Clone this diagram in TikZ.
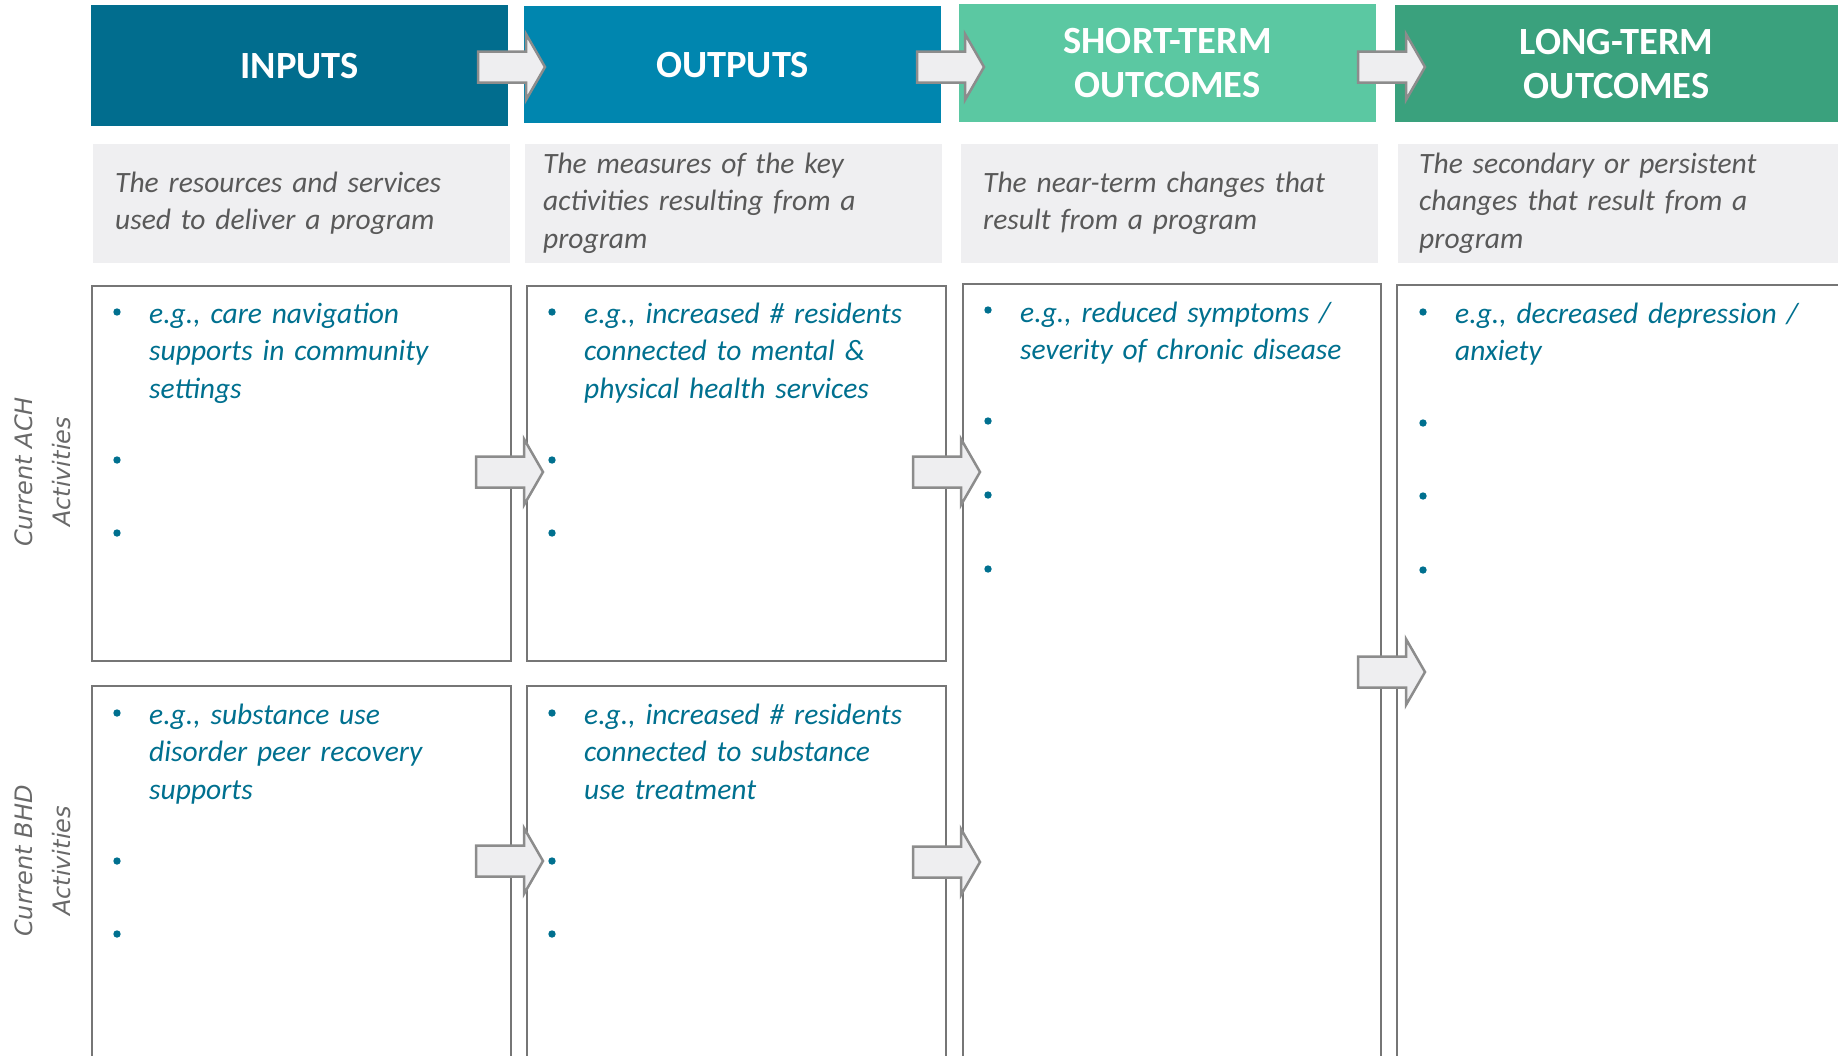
\documentclass[tikz,border=0pt]{standalone}
\usepackage{fontspec}
\setmainfont{Carlito}
\newfontfamily\labelfont{DejaVu Sans}

\definecolor{inputcol}{RGB}{1,109,142}
\definecolor{outputcol}{RGB}{0,134,175}
\definecolor{shortcol}{RGB}{91,200,162}
\definecolor{longcol}{RGB}{58,161,125}
\definecolor{descfill}{RGB}{239,239,241}
\definecolor{desctext}{RGB}{89,89,89}
\definecolor{itemtext}{RGB}{0,112,143}
\definecolor{boxline}{RGB}{118,118,118}
\definecolor{labelgray}{RGB}{105,105,105}
\definecolor{arrowline}{RGB}{140,140,140}
\definecolor{arrowfill}{RGB}{238,238,240}

% block arrow, given by its tip
\newcommand{\flowarrow}[2]{%
  \draw[flowarrow,shift={(#1,#2)}] (-67,-15.5) -- (-19,-15.5) -- (-19,-33)
    -- (0,0) -- (-19,33) -- (-19,15.5) -- (-67,15.5) -- cycle;}

\begin{document}
\begin{tikzpicture}[x=1pt,y=-1pt,
    header/.style={anchor=north west,inner sep=0pt,text=white,align=center,
      font=\fontsize{38.5}{44}\selectfont\bfseries},
    desc/.style={anchor=north west,inner sep=0pt,fill=descfill},
    desctxt/.style={anchor=base west,inner sep=0pt,text width=410pt,align=left,
      text=desctext,font=\fontsize{29.5}{37.5}\selectfont\itshape},
    itembox/.style={anchor=north west,inner sep=0pt,draw=boxline,line width=2pt},
    itemtxt/.style={anchor=base west,inner sep=0pt,text width=380pt,align=left,
      text=itemtext,font=\fontsize{29.5}{37.5}\selectfont\itshape},
    rowlabel/.style={rotate=90,inner sep=0pt,align=center,text=labelgray,
      font=\labelfont\itshape\fontsize{24}{38}\selectfont},
    flowarrow/.style={draw=arrowline,fill=arrowfill,line width=2.5pt}]
  \useasboundingbox (0,0) rectangle (1838,1055);
  \clip (0,0) rectangle (1838,1055);

  % column headers
  \node[header,fill=inputcol,minimum width=417pt,minimum height=121pt] (inputs) at (91,5) {INPUTS};
  \node[header,fill=outputcol,minimum width=417pt,minimum height=117pt] (outputs) at (524,6) {OUTPUTS};
  \node[header,fill=shortcol,minimum width=417pt,minimum height=118pt] (shortterm) at (959,4) {SHORT-TERM\\OUTCOMES};
  \node[header,fill=longcol,minimum width=460pt,minimum height=117pt] (longterm) at (1395,5) {\hspace*{-17pt}LONG-TERM\\\hspace*{-17pt}OUTCOMES};

  % descriptions
  \node[desc,minimum width=417pt,minimum height=119pt] (inputsdesc) at (93,144) {};
  \node[desc,minimum width=417pt,minimum height=119pt] (outputsdesc) at (525,144) {};
  \node[desc,minimum width=417pt,minimum height=119pt] (shortdesc) at (961,144) {};
  \node[desc,minimum width=460pt,minimum height=119pt] (longdesc) at (1398,144) {};
  \node[desctxt] (inputstxt) at (115,192) {The resources and services\\used to deliver a program};
  \node[desctxt] (outputstxt) at (543,173) {The measures of the key\\activities resulting from a\\program};
  \node[desctxt] (shorttxt) at (983,192) {The near-term changes that\\result from a program};
  \node[desctxt] (longtxt) at (1419,173) {The secondary or persistent\\changes that result from a\\program};

  % activity boxes
  \node[itembox,minimum width=419pt,minimum height=375pt] (inach) at (91,285) {};
  \node[itembox,minimum width=419pt,minimum height=375pt] (outach) at (526,285) {};
  \node[itembox,minimum width=419pt,minimum height=420pt] (inbhd) at (91,685) {};
  \node[itembox,minimum width=419pt,minimum height=420pt] (outbhd) at (526,685) {};
  \node[itembox,minimum width=418pt,minimum height=820pt] (shortbox) at (962,283) {};
  \node[itembox,minimum width=460pt,minimum height=820pt] (longbox) at (1396,284) {};

  \node[itemtxt] (inachtxt) at (149,323) {e.g., care navigation\\supports in community\\settings};
  \node[itemtxt] (outachtxt) at (584,323) {e.g., increased \# residents\\connected to mental \&\\physical health services};
  \node[itemtxt] (inbhdtxt) at (149,724) {e.g., substance use\\disorder peer recovery\\supports};
  \node[itemtxt] (outbhdtxt) at (584,724) {e.g., increased \# residents\\connected to substance\\use treatment};
  \node[itemtxt] (shortitems) at (1020,322) {e.g., reduced symptoms /\\severity of chronic disease};
  \node[itemtxt] (longitems) at (1455,323) {e.g., decreased depression /\\anxiety};

  % bullets
  \foreach \x/\y in {117/312,117/460,117/533,552/312,552/460,552/533,
      117/713,117/861,117/934,552/713,552/861,552/934,
      988/310,988/421,988/495,988/569,1423/312,1423/423,1423/496,1423/570}
    \fill[itemtext] (\x,\y) circle (3.7);

  % row labels
  \node[rowlabel] (achlabel) at (43,472) {Current ACH\\Activities};
  \node[rowlabel] (bhdlabel) at (43,861) {Current BHD\\Activities};

  % arrows
  \flowarrow{545}{67}
  \flowarrow{984}{67}
  \flowarrow{1425}{67}
  \flowarrow{543}{472}
  \flowarrow{980}{472}
  \flowarrow{543}{861}
  \flowarrow{980}{862}
  \flowarrow{1425}{672}
\end{tikzpicture}
\end{document}
